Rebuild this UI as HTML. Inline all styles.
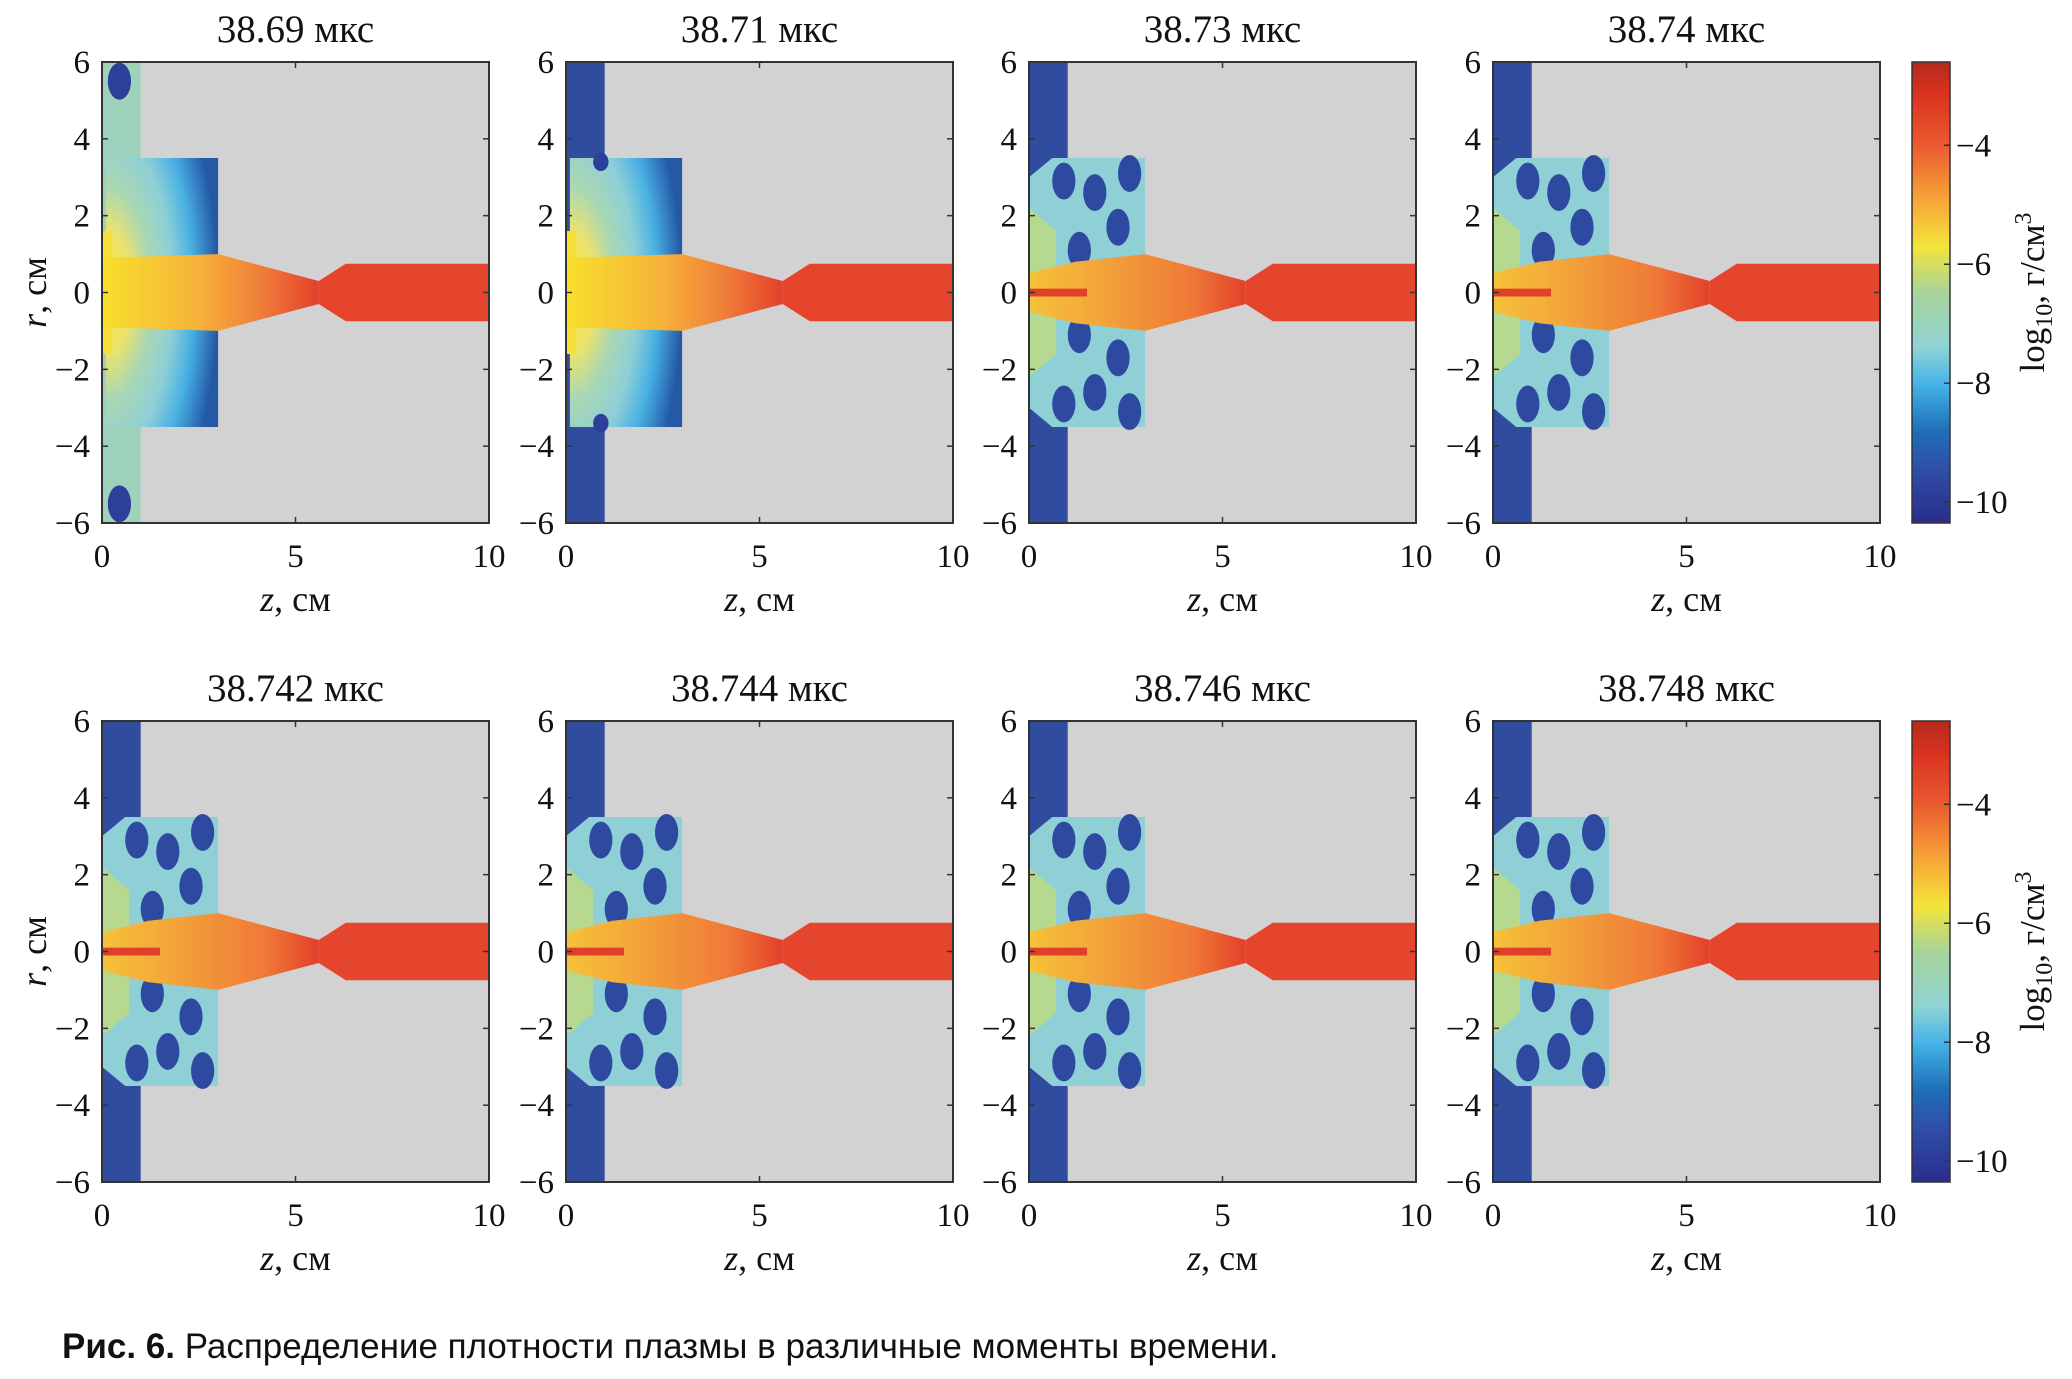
<!DOCTYPE html>
<html><head><meta charset="utf-8"><style>
html,body{margin:0;padding:0;background:#fff;}
svg text{font-family:"Liberation Serif",serif;fill:#111;}
</style></head><body>
<svg id="fig" width="2072" height="1374" viewBox="0 0 2072 1374" xmlns="http://www.w3.org/2000/svg">
<defs>
<linearGradient id="jetcb" x1="0" y1="1" x2="0" y2="0">
<stop offset="0" stop-color="#2a2d8c"/><stop offset="0.12" stop-color="#2f4fa8"/><stop offset="0.2" stop-color="#1e6fb8"/>
<stop offset="0.3" stop-color="#43b3e6"/><stop offset="0.38" stop-color="#8fd3d6"/><stop offset="0.5" stop-color="#a8d49a"/>
<stop offset="0.6" stop-color="#f4e43a"/><stop offset="0.7" stop-color="#f7a538"/><stop offset="0.82" stop-color="#ea5a30"/>
<stop offset="0.93" stop-color="#d9321f"/><stop offset="1" stop-color="#b52a1c"/></linearGradient>
<linearGradient id="jetcone" x1="0" y1="0" x2="1" y2="0">
<stop offset="0" stop-color="#f8e02c"/><stop offset="0.45" stop-color="#f6b13a"/><stop offset="0.75" stop-color="#ef7a38"/><stop offset="1" stop-color="#e3402a"/></linearGradient>
<linearGradient id="jetconeB" x1="0" y1="0" x2="1" y2="0">
<stop offset="0" stop-color="#f5c23a"/><stop offset="0.35" stop-color="#f3a23a"/><stop offset="0.75" stop-color="#ef7a38"/><stop offset="1" stop-color="#e3402a"/></linearGradient>
<radialGradient id="chamberA" cx="0" cy="0.5" r="1" fx="0" fy="0.5">
<stop offset="0" stop-color="#f8e53a"/><stop offset="0.22" stop-color="#eee36a"/><stop offset="0.4" stop-color="#a9d7b4"/>
<stop offset="0.6" stop-color="#8dcfd7"/><stop offset="0.78" stop-color="#48b0e3"/><stop offset="1" stop-color="#2459a8"/></radialGradient>
</defs>
</svg>
<script>
const times = ["38.69","38.71","38.73","38.74","38.742","38.744","38.746","38.748"];
const xTicks = [0,5,10];
const yTicks = [6,4,2,0,-2,-4,-6];
const cbTicks = [-4,-6,-8,-10];
const cbRange = [-10.35,-2.6];
const panelStyle = ["A1","A2","B","B","B","B","B","B"];
const NS="http://www.w3.org/2000/svg";
const svg=document.getElementById('fig');
const colX=[102,566,1029,1493], rowY=[62,721], PW=387, PH=461;
function el(tag,attrs,parent){const e=document.createElementNS(NS,tag);for(const k in attrs)e.setAttribute(k,attrs[k]);(parent||svg).appendChild(e);return e;}
function txt(x,y,s,size,anchor,parent){const t=el('text',{x:x,y:y,'font-size':size,'text-anchor':anchor||'middle'},parent);t.textContent=s;return t;}
times.forEach((tm,i)=>{
  const x0=colX[i%4], y0=rowY[Math.floor(i/4)];
  const g=el('g',{});
  
  
  const sx=z=>x0+z/10*PW, sy=r=>y0+(6-r)/12*PH;
  const P=pts=>pts.map(p=>sx(p[0]).toFixed(1)+','+sy(p[1]).toFixed(1)).join(' ');
  el('rect',{x:x0,y:y0,width:PW,height:PH,fill:'#d2d2d2'},g);
  const st=panelStyle[i];
  const colFill = st==='A1' ? '#9ed2bc' : '#2f4c9e';
  el('polygon',{points:P([[0,6],[1,6],[1,-6],[0,-6]]),fill:colFill},g);
  if(st==='A1'){
    el('ellipse',{cx:sx(0.45),cy:sy(5.5),rx:PW*0.03,ry:PH*0.04,fill:'#2c3f99'},g);
    el('ellipse',{cx:sx(0.45),cy:sy(-5.5),rx:PW*0.03,ry:PH*0.04,fill:'#2c3f99'},g);
  }
  if(st[0]==='A'){
    el('polygon',{points:P([[0.1,3.5],[3,3.5],[3,-3.5],[0.1,-3.5]]),fill:'url(#chamberA)'},g);
    if(st==='A2'){el('ellipse',{cx:sx(0.9),cy:sy(3.4),rx:PW*0.02,ry:PH*0.02,fill:'#2c3f99'},g);el('ellipse',{cx:sx(0.9),cy:sy(-3.4),rx:PW*0.02,ry:PH*0.02,fill:'#2c3f99'},g);}
    el('polygon',{points:P([[0,1.6],[0.25,1.6],[0.25,-1.6],[0,-1.6]]),fill:'#f6df3a'},g);
  } else {
    el('polygon',{points:P([[0,3],[0.6,3.5],[3,3.5],[3,-3.5],[0.6,-3.5],[0,-3]]),fill:'#8fd0d6'},g);
    [[1.7,2.6],[2.3,1.7],[1.3,1.1],[1.7,-2.6],[2.3,-1.7],[1.3,-1.1],[2.6,3.1],[2.6,-3.1],[0.9,2.9],[0.9,-2.9]].forEach(b=>{
      el('ellipse',{cx:sx(b[0]),cy:sy(b[1]),rx:PW*0.03,ry:PH*0.04,fill:'#2d4aa0'},g);});
    el('polygon',{points:P([[0,2.2],[0.7,1.6],[0.7,-1.6],[0,-2.2]]),fill:'#b5d98f'},g);
  }
  el('polygon',{points:P(st[0]==='A'?[[0,0.9],[3,1],[5.6,0.3],[5.6,-0.3],[3,-1],[0,-0.9]]:[[0,0.5],[1.2,0.8],[3,1],[5.6,0.3],[5.6,-0.3],[3,-1],[1.2,-0.8],[0,-0.5]]),fill:st[0]==='A'?'url(#jetcone)':'url(#jetconeB)'},g);
  if(st[0]==='B') el('rect',{x:sx(0),y:sy(0.1),width:PW*0.15,height:PH*0.017,fill:'#e0402a'},g);
  el('polygon',{points:P([[5.6,0.3],[6.3,0.75],[10,0.75],[10,-0.75],[6.3,-0.75],[5.6,-0.3]]),fill:'#e5452c'},g);
  el('rect',{x:x0,y:y0,width:PW,height:PH,fill:'none',stroke:'#333','stroke-width':2},g);
  xTicks.forEach(v=>{el('line',{x1:sx(v),x2:sx(v),y1:y0+PH,y2:y0+PH-6,stroke:'#333','stroke-width':1.5},g);el('line',{x1:sx(v),x2:sx(v),y1:y0,y2:y0+6,stroke:'#333','stroke-width':1.5},g);
    txt(sx(v),y0+PH+44,String(v),33,'middle',g);});
  yTicks.forEach(v=>{el('line',{x1:x0,x2:x0+6,y1:sy(v),y2:sy(v),stroke:'#333','stroke-width':1.5},g);el('line',{x1:x0+PW,x2:x0+PW-6,y1:sy(v),y2:sy(v),stroke:'#333','stroke-width':1.5},g);
    txt(x0-12,sy(v)+11,(v<0?'\u2212':'')+Math.abs(v),33,'end',g);});
  const t=txt(x0+PW/2,y0-20,tm+' мкс',39,'middle',g);
  
  
  const xl=el('text',{x:x0+PW/2,y:y0+PH+88,'font-size':36,'text-anchor':'middle'},g);
  xl.innerHTML='<tspan font-style="italic">z</tspan>, см';
  
  
  if(i%4===0){
    const yl=el('text',{x:0,y:0,'font-size':36,'text-anchor':'middle',transform:`translate(${x0-56},${y0+PH/2}) rotate(-90)`},g);
    yl.innerHTML='<tspan font-style="italic">r</tspan>, см';
    
    
  }
});
rowY.forEach((y0,ri)=>{
  const g=el('g',{});
  
  
  const cx=1912,cw=38;
  el('rect',{x:cx,y:y0,width:cw,height:PH,fill:'url(#jetcb)',stroke:'#333','stroke-width':1.5},g);
  const cy=v=>y0+(cbRange[1]-v)/(cbRange[1]-cbRange[0])*PH;
  cbTicks.forEach(v=>{el('line',{x1:cx+cw-6,x2:cx+cw,y1:cy(v),y2:cy(v),stroke:'#333','stroke-width':1.5},g);
    txt(cx+cw+6,cy(v)+11,'\u2212'+Math.abs(v),33,'start',g);});
  const lab=el('text',{x:0,y:0,'font-size':35,'text-anchor':'middle',transform:`translate(${cx+cw+94},${y0+PH/2}) rotate(-90)`},g);
  lab.innerHTML='log<tspan font-size="24" dy="8">10</tspan><tspan dy="-8">, г/см</tspan><tspan font-size="24" dy="-13">3</tspan>';
  
  
});
const cap=el('text',{x:62,y:1358,'font-size':35,'text-anchor':'start'});
cap.style.fontFamily='"Liberation Sans",sans-serif';
cap.innerHTML='<tspan font-weight="bold">Рис. 6.</tspan> Распределение плотности плазмы в различные моменты времени.';


</script>
</body></html>
